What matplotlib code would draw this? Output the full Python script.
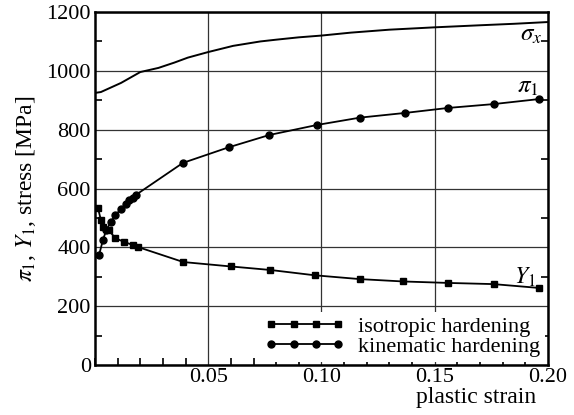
import numpy as np
import matplotlib
matplotlib.use("Agg")
from matplotlib import pyplot as plt
from matplotlib.ticker import MultipleLocator

# sigma_x curve (no markers)
sig_strain = [0.0, 0.0026, 0.0115, 0.020, 0.028, 0.035, 0.041, 0.050, 0.061, 0.073,
              0.08, 0.09, 0.10, 0.113, 0.13, 0.15, 0.17, 0.185, 0.20]
sig_stress = [925, 928, 959, 996, 1010, 1028, 1045, 1064, 1085, 1100,
              1106, 1114, 1120, 1130, 1140, 1148, 1155, 1160, 1166]

# pi_1, kinematic hardening (circles)
kin_strain = [0.0018, 0.0035, 0.005, 0.007, 0.009, 0.0115, 0.0137, 0.015, 0.0167, 0.018,
              0.0388, 0.059, 0.077, 0.098, 0.117, 0.137, 0.156, 0.176, 0.196]
kin_stress = [374, 425, 459, 486, 510, 530, 547, 561, 568, 578,
              687, 740, 782, 816, 841, 857, 874, 887, 904]

# Y_1, isotropic hardening (squares)
iso_strain = [0.0013, 0.0026, 0.0035, 0.006, 0.009, 0.013, 0.0167, 0.019,
              0.039, 0.060, 0.0775, 0.097, 0.117, 0.136, 0.156, 0.176, 0.196]
iso_stress = [534, 493, 470, 459, 431, 418, 408, 401,
              350, 335, 323, 305, 292, 284, 279, 275, 262]

plt.rcParams['font.family'] = 'Liberation Serif'
plt.rcParams['mathtext.fontset'] = 'stix'

fig = plt.figure(figsize=(5.74, 4.15), dpi=100)
ax = fig.add_axes([0.1655, 0.1205, 0.789, 0.8505])

ax.plot(sig_strain, sig_stress, color='black', lw=1.4)
ax.plot(kin_strain, kin_stress, color='black', lw=1.3, marker='o', ms=5,
        label='kinematic hardening')
ax.plot(iso_strain, iso_stress, color='black', lw=1.3, marker='s', ms=5,
        label='isotropic hardening')

ax.set_xlim(0, 0.20)
ax.set_ylim(0, 1200)
ax.set_xticks([0.05, 0.10, 0.15, 0.20])
ax.set_xticklabels(['0.05', '0.10', '0.15', '0.20'])
ax.set_yticks([0, 200, 400, 600, 800, 1000, 1200])
ax.xaxis.set_minor_locator(MultipleLocator(0.01))
ax.yaxis.set_minor_locator(MultipleLocator(100))
ax.tick_params(which='major', length=0, labelsize=16)
ax.tick_params(axis='x', which='major', pad=2)
ax.tick_params(axis='y', which='major', pad=3)
ax.tick_params(which='minor', direction='in', length=5, width=1.2,
               right=True)
ax.grid(True, which='major', color='#333333', lw=0.9)
for s in ax.spines.values():
    s.set_linewidth(1.8)

ax.set_ylabel(r'$\pi_1$, $Y_1$, stress [MPa]', fontsize=17, labelpad=6)
fig.text(0.83, 0.028, 'plastic strain', fontsize=17, ha='center',
         va='baseline')

ax.text(0.1875, 1122, r'$\sigma_x$', fontsize=18, va='center')
ax.text(0.1865, 945, r'$\pi_1$', fontsize=18, va='center')
ax.text(0.185, 298, r'$Y_1$', fontsize=17, va='center')

handles, labels = ax.get_legend_handles_labels()
leg = ax.legend(handles[::-1], labels[::-1], loc='lower right', numpoints=4,
                handlelength=3.6, fontsize=16, frameon=True, framealpha=1,
                edgecolor='none', borderpad=0.2, labelspacing=0.0,
                handletextpad=0.6, borderaxespad=0.15, fancybox=False)
leg.get_frame().set_linewidth(0)

fig.savefig('out.png', dpi=100)
